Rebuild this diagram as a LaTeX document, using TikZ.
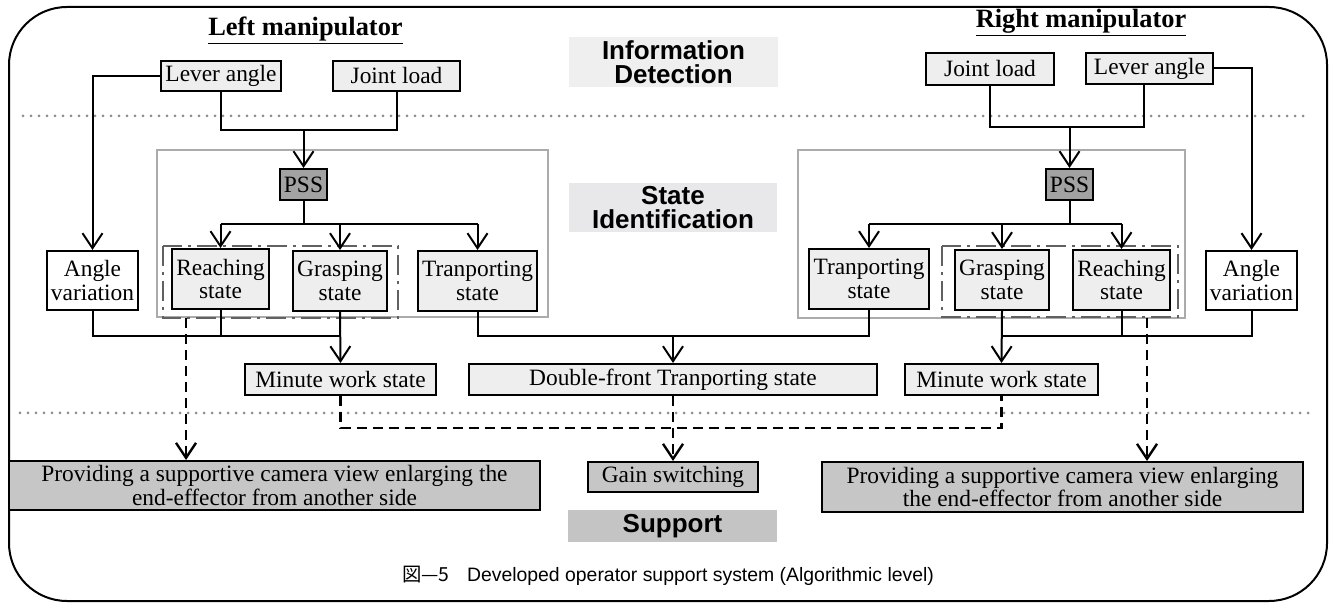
\documentclass[tikz,border=0pt]{standalone}
\usepackage{fontspec}
\setmainfont{Liberation Serif}
\newfontfamily\hsans{Liberation Sans}
\newfontfamily\jpfont{Noto Sans CJK JP}
\usetikzlibrary{arrows.meta}
\definecolor{boxfill}{HTML}{EEEEEE}
\definecolor{pssfill}{HTML}{A2A2A2}
\definecolor{supfill}{HTML}{C6C6C6}
\definecolor{hdrA}{HTML}{EFEFF0}
\definecolor{hdrB}{HTML}{E8E8EA}
\definecolor{hdrC}{HTML}{C4C4C4}
\begin{document}
\begin{tikzpicture}[x=0.5pt,y=-0.5pt,
  box/.style={draw=black, line width=1pt, fill=boxfill, inner sep=0pt, align=center,
    font=\fontsize{11.7}{11.9}\selectfont},
  wbox/.style={box, fill=white},
  pbox/.style={box, fill=pssfill},
  sbox/.style={box, fill=supfill},
  hdr/.style={inner sep=0pt, align=center, font=\hsans\bfseries\fontsize{13}{12}\selectfont},
  ttl/.style={inner sep=0pt, font=\bfseries\fontsize{13.2}{14}\selectfont},
  conn/.style={line width=1pt},
  arr/.style={-{Straight Barb[length=7.5pt,width=10pt]}},
  dsh/.style={line width=1.2pt, dash pattern=on 5pt off 3pt},
  dotline/.style={draw=black!45, line width=1.5pt, line cap=round, dash pattern=on 0pt off 4pt},
  grayframe/.style={draw=black!33, line width=1pt},
  dashdot/.style={draw=black!62, line width=1.2pt, dash pattern=on 10pt off 3pt on 1.5pt off 3pt}
]
\useasboundingbox (0,0) rectangle (1332,603);
% outer frame
\draw[line width=1pt, rounded corners=29pt] (9,7) rectangle (1327,601);
% dotted separators
\draw[dotline] (23,116) -- (1310,116);
\draw[dotline] (20,413) -- (1310,413);
% gray region frames
\draw[grayframe] (157,150) rectangle (548,317);
\draw[grayframe] (798,150) rectangle (1185,318);
% dash-dot groups
\draw[dashdot] (163,246) rectangle (398,318);
\draw[dashdot] (942,246) rectangle (1178,317);

% section labels
\node[hdr, fill=hdrA, minimum width=104.5pt, minimum height=25pt] (info) at (673.5,62) {Information\\Detection};
\node[hdr, fill=hdrB, minimum width=104pt, minimum height=24.5pt] (stid) at (673,207.5) {State\\Identification};
\node[hdr, fill=hdrC, minimum width=104.5pt, minimum height=16pt] (supp) at (672.5,526) {Support};

% titles
\node[ttl] (tl) at (305.5,31) {\underline{Left manipulator}};
\node[ttl] (tr) at (1081,23) {\underline{Right manipulator}};

% left side nodes
\node[box, minimum width=60pt, minimum height=15pt] (LAL) at (221,76) {Lever angle};
\node[box, minimum width=63.5pt, minimum height=15pt] (JLL) at (396.5,76) {Joint load};
\node[pbox, minimum width=23.5pt, minimum height=15.5pt] (PSSL) at (303.5,184.5) {PSS};
\node[wbox, minimum width=45.5pt, minimum height=29.5pt] (AVL) at (92.5,280.5) {Angle\\variation};
\node[box, minimum width=48.5pt, minimum height=30pt] (RSL) at (220.5,279) {Reaching\\state};
\node[box, minimum width=47pt, minimum height=30pt] (GSL) at (340,281) {Grasping\\state};
\node[box, minimum width=59.5pt, minimum height=30pt] (TSL) at (477.5,281) {Tranporting\\state};
\node[box, minimum width=95.5pt, minimum height=15.5pt] (MWL) at (340.5,379.5) {Minute work state};
\node[box, minimum width=204pt, minimum height=15.5pt] (DF) at (673,379.5) {Double-front Tranporting state};
\node[sbox, minimum width=265.5pt, minimum height=24.5pt] (PRL) at (274.5,485.5) {Providing a supportive camera view enlarging the\\end-effector from another side};
\node[sbox, minimum width=85pt, minimum height=15pt] (GW) at (673,477) {Gain switching};

% right side nodes
\node[box, minimum width=64pt, minimum height=16pt] (JLR) at (990,69) {Joint load};
\node[box, minimum width=63.5pt, minimum height=15.5pt] (LAR) at (1149.5,68.5) {Lever angle};
\node[pbox, minimum width=23.5pt, minimum height=15.5pt] (PSSR) at (1069.5,184.5) {PSS};
\node[box, minimum width=60pt, minimum height=30pt] (TSR) at (869,279) {Tranporting\\state};
\node[box, minimum width=47pt, minimum height=30pt] (GSR) at (1002,280) {Grasping\\state};
\node[box, minimum width=48.5pt, minimum height=30pt] (RSR) at (1121.5,280) {Reaching\\state};
\node[wbox, minimum width=45.5pt, minimum height=29.5pt] (AVR) at (1251.5,280.5) {Angle\\variation};
\node[box, minimum width=96.5pt, minimum height=15.5pt] (MWR) at (1001.5,379.5) {Minute work state};
\node[sbox, minimum width=240.5pt, minimum height=25pt] (PRR) at (1062.5,487) {Providing a supportive camera view enlarging\\the end-effector from another side};

% caption
\node[inner sep=0pt, font=\hsans\fontsize{9.7}{10}\selectfont] (cap) at (668,576)
  {{\jpfont 図—5}\hspace{0.9em}Developed operator support system (Algorithmic level)};

% coordinates
\coordinate (jL) at (303.5,130);
\coordinate (sL) at (303.5,224);
\coordinate (jR) at (1069.5,127);
\coordinate (sR) at (1069.5,224);
\coordinate (mL) at (340,336);
\coordinate (mR) at (1002,336);
\coordinate (mD) at (673,336);
\coordinate (dD) at (673,428);
\coordinate (ddL) at (186,318);
\coordinate (ddR) at (1147,318);

% left connectors
\draw[conn, arr] (LAL.west) -| (AVL.north);
\draw[conn] (LAL.south) |- (jL) -| (JLL.south);
\draw[conn, arr] (jL) -- (PSSL.north);
\draw[conn] (PSSL.south) -- (sL);
\draw[conn] (RSL.north |- sL) -- (TSL.north |- sL);
\draw[conn, arr] (RSL.north |- sL) -- (RSL.north);
\draw[conn, arr] (GSL.north |- sL) -- (GSL.north);
\draw[conn, arr] (TSL.north |- sL) -- (TSL.north);
\draw[conn] (AVL.south) |- (mL);
\draw[conn] (RSL.south) -- (RSL.south |- mL);
\draw[conn, arr] (GSL.south) -- (MWL.north);

% right connectors
\draw[conn, arr] (LAR.east) -| (AVR.north);
\draw[conn] (JLR.south) |- (jR) -| ([xshift=-2.75pt]LAR.south);
\draw[conn, arr] (jR) -- (PSSR.north);
\draw[conn] (PSSR.south) -- (sR);
\draw[conn] (TSR.north |- sR) -- (RSR.north |- sR);
\draw[conn, arr] (TSR.north |- sR) -- (TSR.north);
\draw[conn, arr] (GSR.north |- sR) -- (GSR.north);
\draw[conn, arr] (RSR.north |- sR) -- (RSR.north);
\draw[conn] (AVR.south) |- (mR);
\draw[conn] (RSR.south) -- (RSR.south |- mR);
\draw[conn, arr] (GSR.south) -- (MWR.north);

% transporting merge
\draw[conn] (TSL.south) |- (mD) -| (TSR.south);
\draw[conn, arr] (mD) -- (DF.north);

% dashed support links
\draw[dsh, arr] (ddL) -- (ddL |- PRL.north);
\draw[dsh, arr] (ddR) -- (ddR |- PRR.north);
\draw[dsh] (MWL.south) |- (dD) -| (MWR.south);
\draw[dsh, arr] (DF.south) -- (GW.north);
\end{tikzpicture}
\end{document}
